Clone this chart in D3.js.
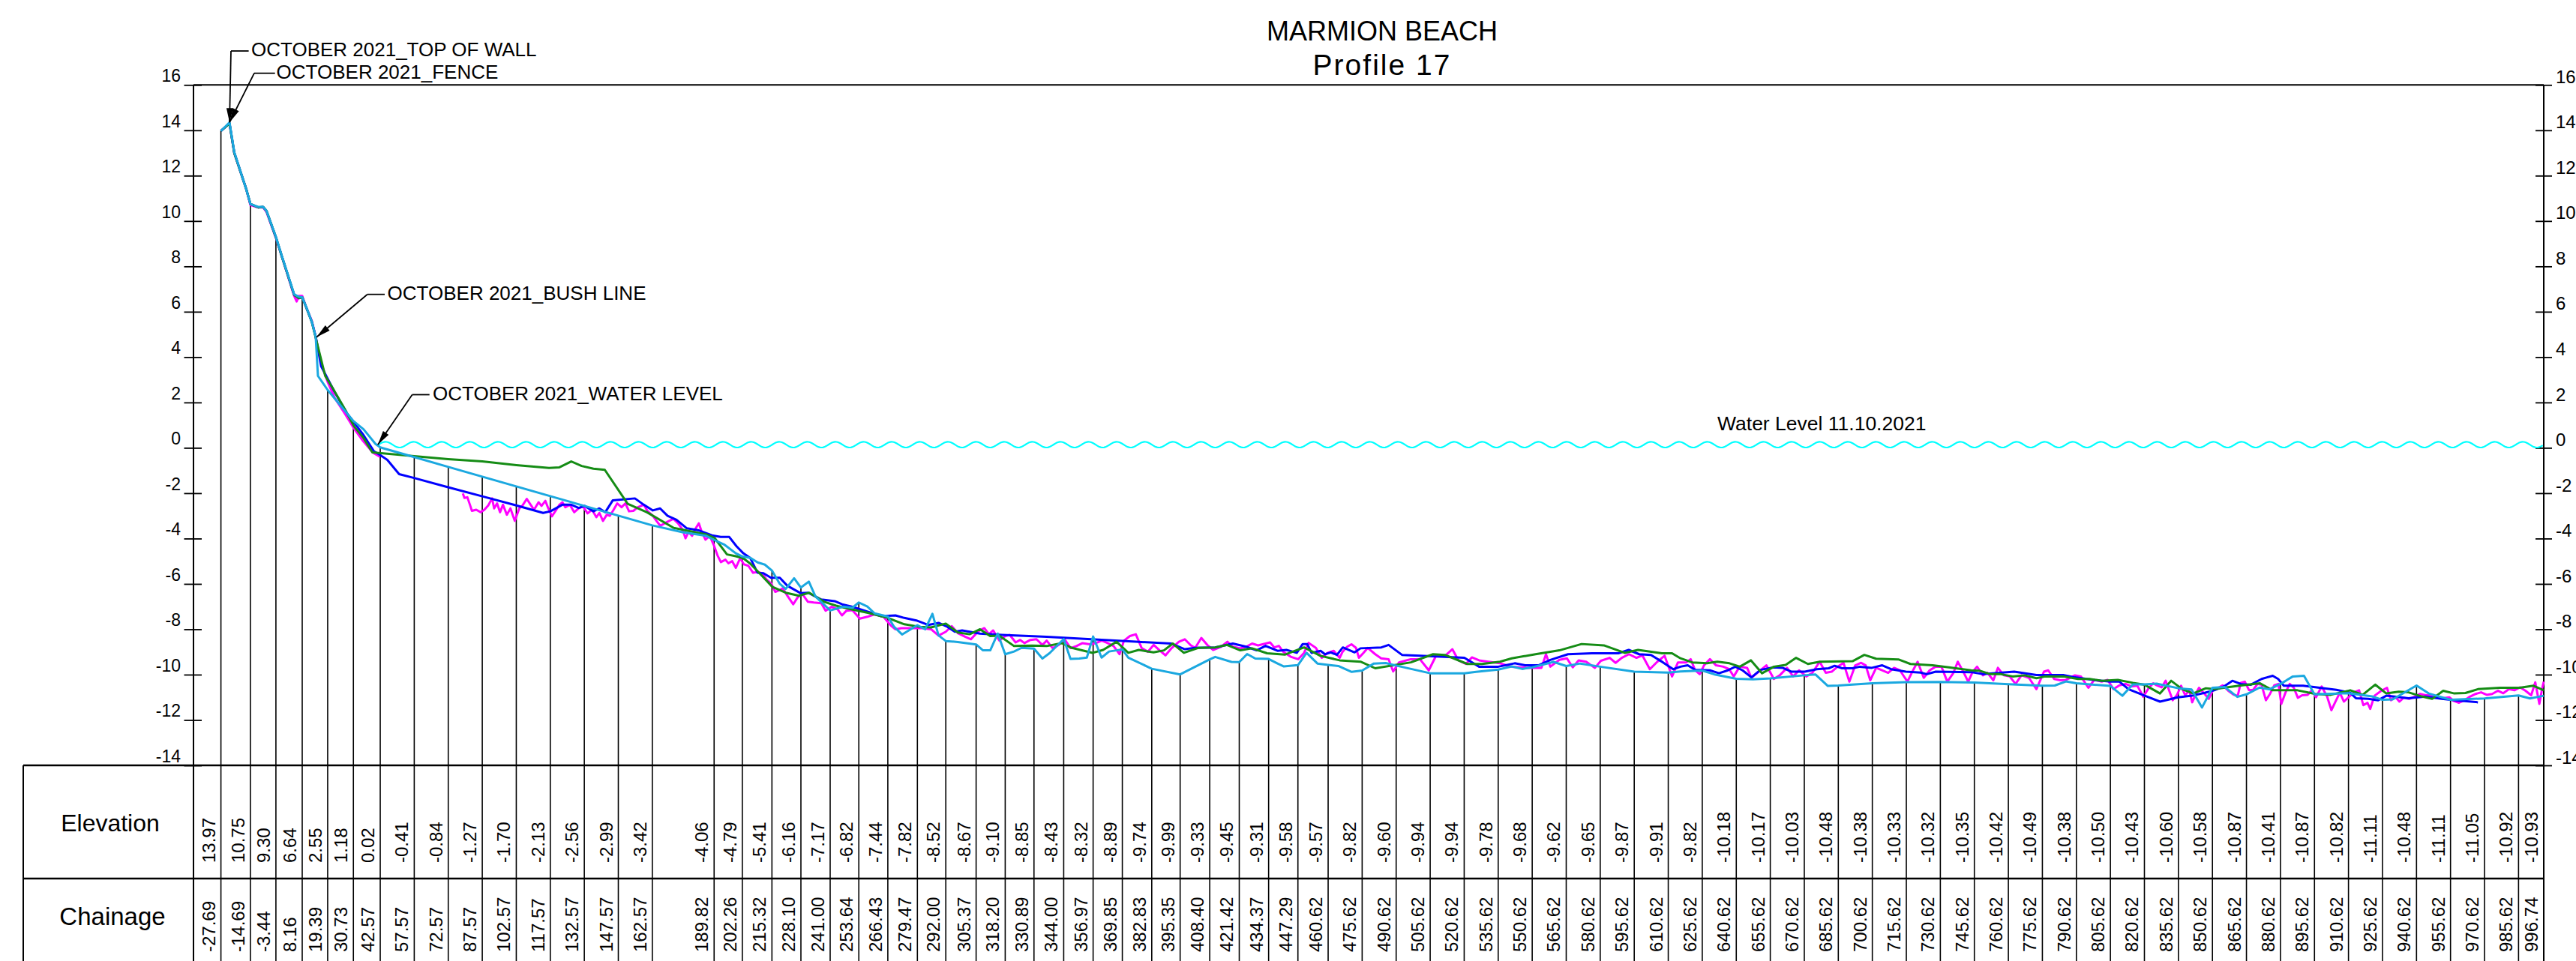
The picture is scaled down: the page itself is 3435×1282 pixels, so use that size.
<!DOCTYPE html>
<html>
<head>
<meta charset="utf-8">
<script src="https://d3js.org/d3.v7.min.js"></script>
<style>
  body { margin: 0; background: #fff; }
  svg { display: block; font-family: "Liberation Sans", Arial, sans-serif; }
</style>
</head>
<body>
<div id="chart"></div>
<script>
// station table (Oct 2021 survey)
var stationChainage = [-27.69,-14.69,-3.44,8.16,19.39,30.73,42.57,57.57,72.57,87.57,102.57,117.57,132.57,147.57,162.57,
  189.82,202.26,215.32,228.10,241.00,253.64,266.43,279.47,292.00,305.37,318.20,330.89,344.00,356.97,369.85,382.83,395.35,
  408.40,421.42,434.37,447.29,460.62,475.62,490.62,505.62,520.62,535.62,550.62,565.62,580.62,595.62,610.62,625.62,640.62,
  655.62,670.62,685.62,700.62,715.62,730.62,745.62,760.62,775.62,790.62,805.62,820.62,835.62,850.62,865.62,880.62,895.62,
  910.62,925.62,940.62,955.62,970.62,985.62,996.74];
var stationElevation = [13.97,10.75,9.30,6.64,2.55,1.18,0.02,-0.41,-0.84,-1.27,-1.70,-2.13,-2.56,-2.99,-3.42,
  -4.06,-4.79,-5.41,-6.16,-7.17,-6.82,-7.44,-7.82,-8.52,-8.67,-9.10,-8.85,-8.43,-8.32,-8.89,-9.74,-9.99,
  -9.33,-9.45,-9.31,-9.58,-9.57,-9.82,-9.60,-9.94,-9.94,-9.78,-9.68,-9.62,-9.65,-9.87,-9.91,-9.82,-10.18,
  -10.17,-10.03,-10.48,-10.38,-10.33,-10.32,-10.35,-10.42,-10.49,-10.38,-10.50,-10.43,-10.60,-10.58,-10.87,-10.41,-10.87,
  -10.82,-11.11,-10.48,-11.11,-11.05,-10.92,-10.93];

var yTicks = [-14,-12,-10,-8,-6,-4,-2,0,2,4,6,8,10,12,14,16];
var waterLevel = 0;

// profiles [chainage, elevation]
var profileOct2021 = [[-27.69,13.97],[-23.9,14.35],[-21.8,13.04],[-16.5,11.39],[-14.69,10.75],[-11.2,10.62],[-9.1,10.62],[-7.6,10.45],
  [-3.44,9.30],[-0.7,8.42],[4.6,6.77],[6.7,6.66],[8.16,6.64],[9.9,6.22],[12.4,5.56],[14.1,4.9],[15.1,3.17],[19.39,2.55],[30.73,1.18],
  [35.2,0.82],[40.5,0.17],[42.57,0.02],[57.57,-0.41],[72.57,-0.84],[87.57,-1.27],[102.57,-1.70],[117.57,-2.13],[132.57,-2.56],
  [147.57,-2.99],[162.57,-3.42],[175.9,-3.72],[186.3,-3.88],[189.82,-4.06],[194.2,-4.26],[199.4,-4.65],[202.26,-4.79],[205.7,-4.85],
  [209,-5.05],[212.2,-5.15],[215.32,-5.41],[218.8,-6.0],[221.4,-6.22],[225.1,-5.75],[228.10,-6.16],[231.6,-5.9],[234.5,-6.55],
  [241.00,-7.17],[246.9,-7.0],[250.8,-7.05],[253.64,-6.82],[257.4,-7.0],[260.6,-7.3],[266.43,-7.44],[269.1,-7.88],[272.7,-8.23],
  [279.47,-7.82],[282.9,-8.0],[286.1,-7.32],[288.8,-8.27],[292.00,-8.52],[297.3,-8.56],[305.37,-8.67],[308.4,-8.93],[311.6,-8.93],
  [314.9,-8.19],[318.20,-9.10],[322.1,-8.98],[325.4,-8.82],[330.89,-8.85],[334.6,-9.29],[337.8,-9.05],[344.00,-8.43],[347,-9.31],
  [350.9,-9.29],[354.2,-9.25],[356.97,-8.32],[360.7,-9.25],[364,-8.98],[369.85,-8.89],[372.5,-9.25],[382.83,-9.74],[395.35,-9.99],
  [408.40,-9.33],[410.8,-9.22],[418,-9.44],[421.42,-9.45],[424.9,-9.09],[428.5,-9.29],[434.37,-9.31],[438.3,-9.51],[441.1,-9.64],
  [447.29,-9.58],[451.1,-9.04],[455.9,-9.51],[460.62,-9.57],[465.1,-9.62],[471,-9.88],[475.62,-9.82],[480.8,-9.51],[486,-9.49],
  [490.62,-9.60],[505.62,-9.94],[520.62,-9.94],[525.9,-9.88],[535.62,-9.78],[541.6,-9.64],[546.2,-9.75],[550.62,-9.68],[560,-9.44],
  [565.62,-9.62],[571.8,-9.51],[580.62,-9.65],[595.62,-9.87],[610.62,-9.91],[616,-9.86],[625.62,-9.82],[631,-9.99],[640.62,-10.18],
  [648,-10.21],[655.62,-10.17],[670.62,-10.03],[675.5,-9.99],[681,-10.5],[685.62,-10.48],[700.62,-10.38],[715.62,-10.33],
  [730.62,-10.32],[745.62,-10.35],[760.62,-10.42],[775.62,-10.49],[781.1,-10.48],[786,-10.3],[790.62,-10.38],[805.62,-10.50],
  [810.9,-10.93],[815.5,-10.43],[820.62,-10.43],[826,-10.4],[835.62,-10.60],[841.4,-10.65],[846,-11.45],[850.62,-10.58],[856.1,-10.55],
  [861.6,-10.98],[865.62,-10.87],[871.4,-10.57],[875.7,-10.65],[880.62,-10.41],[886.1,-10.08],[891,-10.05],[895.62,-10.87],
  [910.62,-10.82],[921,-10.96],[925.62,-11.11],[930.1,-11.09],[940.62,-10.48],[946,-10.83],[955.62,-11.11],[970.62,-11.05],
  [985.62,-10.92],[990.7,-11.05],[996.74,-10.93]];

var profileGreen = [[-27.69,13.97],[-23.9,14.3],[-21.8,13.0],[-16.5,11.4],[-14.69,10.75],[-11.2,10.6],[-9.1,10.62],[-7.6,10.45],
  [-3.44,9.28],[-0.7,8.4],[4.6,6.75],[6.7,6.6],[8.16,6.64],[9.9,6.2],[12.4,5.55],[14.1,4.86],[18.3,3.17],[21.5,2.65],[26.8,1.73],
  [31,0.95],[35.2,0.43],[39.1,-0.2],[57.5,-0.37],[72.5,-0.5],[87.6,-0.6],[102.6,-0.76],[117,-0.89],[121.6,-0.86],[126.8,-0.6],
  [131.4,-0.8],[136.6,-0.92],[141.6,-0.97],[151.7,-2.47],[160.2,-2.84],[172,-3.53],[186.3,-3.82],[190,-3.97],[195.5,-4.7],
  [199.4,-4.78],[202.7,-4.87],[205.7,-5.1],[210.9,-5.64],[215.5,-6.13],[221.4,-6.39],[227.3,-6.52],[231.8,-6.39],[238.4,-6.79],
  [243.6,-6.96],[250.2,-7.12],[258,-7.28],[266.5,-7.5],[273.7,-7.78],[280.3,-7.89],[285.5,-7.92],[292,-7.75],[297.3,-8.14],
  [302.5,-8.22],[307.1,-8.0],[311.6,-8.3],[315.6,-8.28],[322.1,-8.74],[330,-8.72],[336.5,-8.74],[343.1,-8.61],[347.6,-8.82],
  [356.8,-9.04],[361.4,-8.91],[367.3,-8.55],[372.5,-9.04],[377.1,-8.91],[383.6,-9.02],[388.2,-8.93],[392.1,-8.63],[397,-9.04],
  [403.3,-8.82],[410.8,-8.8],[416,-8.69],[421.9,-8.93],[427.1,-8.84],[433.7,-9.06],[441.5,-9.12],[450,-8.8],[457.2,-9.17],
  [465.7,-9.37],[474.9,-9.43],[481.4,-9.72],[497.1,-9.46],[506.9,-9.1],[512.1,-9.13],[522,-9.53],[528.5,-9.53],[536.4,-9.43],
  [541.6,-9.28],[552.1,-9.1],[562.6,-8.93],[572.4,-8.65],[582.2,-8.71],[591.4,-9.04],[597.3,-8.91],[607.8,-9.06],[612.3,-9.06],
  [616,-9.28],[621.2,-9.46],[627.8,-9.5],[632.3,-9.43],[637.6,-9.5],[642.2,-9.65],[647.1,-9.37],[652,-9.94],[657.2,-9.65],
  [662.4,-9.57],[667,-9.26],[672.2,-9.53],[677.5,-9.43],[691.9,-9.41],[697.1,-9.13],[702.3,-9.3],[712.1,-9.33],[717.4,-9.53],
  [727.2,-9.59],[734.4,-9.68],[744.2,-9.81],[748.1,-9.83],[752.7,-9.98],[757.3,-9.98],[762.5,-10.08],[767.8,-10.03],[773,-10.16],
  [776.9,-10.08],[784.8,-10.08],[791.3,-10.19],[796.5,-10.19],[801.8,-10.27],[808.9,-10.23],[815.5,-10.36],[820.8,-10.45],
  [827.5,-10.83],[832.4,-10.27],[837.3,-10.64],[842.2,-10.83],[847.7,-10.6],[851.4,-10.64],[862.4,-10.49],[871.6,-10.38],
  [877.1,-10.69],[888.1,-10.69],[896,-10.85],[902.8,-10.89],[911.4,-10.69],[916.9,-10.89],[922.4,-10.44],[927.3,-10.83],
  [932.8,-10.75],[937.1,-10.78],[943.2,-10.97],[947.5,-11.07],[952.4,-10.71],[957.3,-10.83],[962.2,-10.81],[967.7,-10.64],
  [977.5,-10.58],[986.1,-10.58],[992.2,-10.49],[996.74,-10.69]];

var profileBlue = [[-27.69,13.97],[-23.9,14.3],[-21.8,13.0],[-16.5,11.4],[-14.69,10.75],[-11.2,10.6],[-9.1,10.62],[-7.6,10.45],
  [-3.44,9.28],[-0.7,8.4],[4.6,6.75],[6.7,6.6],[8.16,6.64],[9.9,6.2],[12.4,5.55],[14.1,4.9],[16.5,3.6],[22.5,2.45],[27.8,1.54],
  [35.2,0.56],[39.8,-0.15],[42.4,-0.31],[45.7,-0.53],[50.9,-1.16],[57.5,-1.33],[72.5,-1.74],[87.6,-2.14],[102.6,-2.54],
  [114.4,-2.87],[117.6,-2.8],[122.9,-2.51],[126.8,-2.51],[130.1,-2.65],[132.7,-2.56],[136.6,-2.8],[139.2,-2.67],[141.8,-2.84],
  [145.1,-2.32],[154.9,-2.23],[158.8,-2.51],[162.8,-2.76],[166,-2.67],[169.3,-3.0],[173.2,-3.17],[177.8,-3.55],[183.1,-3.64],
  [188.9,-3.86],[192.7,-3.93],[196.5,-3.93],[199.7,-4.34],[202.7,-4.65],[205.7,-4.85],[209,-5.51],[211.6,-5.53],[214.9,-5.73],
  [218.8,-5.73],[222.1,-6.08],[228,-6.41],[231.3,-6.39],[237.1,-6.69],[243,-6.76],[246.3,-6.9],[250.8,-7.01],[259.3,-7.28],
  [263.3,-7.42],[269.8,-7.39],[273.7,-7.5],[279,-7.61],[284.2,-7.81],[288.8,-7.72],[292.7,-7.89],[296,-8.11],[299.2,-8.05],
  [307.1,-8.19],[316.9,-8.25],[336.5,-8.33],[356.1,-8.44],[375.8,-8.55],[391.5,-8.63],[397.4,-8.88],[401.9,-8.82],[410.8,-8.8],
  [418.6,-8.63],[424.5,-8.77],[429.1,-8.93],[433,-8.73],[438.3,-8.95],[442.2,-8.91],[446.8,-9.04],[449.4,-8.65],[451.4,-8.65],
  [453.3,-9.04],[457.3,-8.95],[459.2,-9.1],[461.8,-9.02],[464.5,-9.13],[467.1,-8.8],[472.3,-9.02],[474.9,-8.84],[484.1,-8.8],
  [487.3,-8.69],[493.2,-9.13],[501.1,-9.17],[510.2,-9.21],[520.7,-9.26],[527.2,-9.65],[535.7,-9.65],[542.9,-9.5],[547.5,-9.59],
  [553.4,-9.59],[558.6,-9.35],[566.4,-9.1],[576.9,-9.06],[588.6,-9.06],[593.2,-8.91],[597.8,-9.1],[603,-9.13],[608.3,-9.46],
  [612.8,-9.76],[616,-9.65],[619.2,-9.59],[622.5,-9.79],[629,-9.81],[633,-9.94],[636.9,-9.81],[640.2,-9.65],[643.4,-9.81],
  [647.3,-10.12],[651.3,-9.79],[657.2,-9.68],[661.1,-9.7],[665,-9.87],[670.9,-9.87],[676.1,-9.76],[681.4,-9.72],[684,-9.61],
  [687.3,-9.72],[691.9,-9.72],[695.1,-9.65],[700.4,-9.7],[705,-9.59],[708.9,-9.76],[715.4,-9.87],[722,-9.91],[724.6,-9.98],
  [728.6,-9.87],[744.3,-9.89],[749.5,-9.98],[763.2,-9.87],[773,-10.02],[784.8,-10.02],[790,-10.12],[799.2,-10.25],[805.7,-10.31],
  [809.6,-10.31],[813.6,-10.64],[820.8,-10.93],[827.5,-11.19],[835.4,-11.0],[841.6,-10.93],[847.2,-10.8],[851.4,-10.69],
  [855.7,-10.52],[859.4,-10.27],[863.1,-10.41],[867.4,-10.45],[872.3,-10.19],[874.7,-10.12],[877.2,-10.05],[879.6,-10.19],
  [882.1,-10.49],[890.6,-10.49],[905.3,-10.67],[911.4,-10.8],[913.9,-11.04],[919.4,-11.07],[923.7,-11.13],[927.3,-10.93],
  [937.1,-11.04],[944.5,-10.97],[951.8,-11.07],[957.9,-11.13],[967.7,-11.22]];

var profileMagenta = [[-27.69,13.97],[-23.9,14.3],[-21.8,13.0],[-16.5,11.4],[-14.69,10.7],[-11.2,10.6],[-9.1,10.6],[-7.6,10.4],
  [-3.44,9.25],[-0.7,8.4],[4.6,6.7],[5.7,6.45],[6.7,6.7],[8.16,6.7],[9.9,6.2],[12.4,5.6],[14.1,4.9],[15.1,4.4],[17,3.6],[19.4,2.9],
  [22.5,2.2],[27,1.5],[31,0.85],[35,0.3],[39.4,-0.22],[42.5,-0.4],[60,null],
  [79,-2.01],[79.7,-2.21],[81,-2.18],[82.3,-2.56],[83,-2.78],[84.9,-2.73],[86.9,-2.84],[88.5,-2.73],[90.2,-2.54],[91.9,-2.23],
  [92.8,-2.67],[94.1,-2.45],[95.4,-2.84],[96.7,-2.51],[98.4,-2.95],[100,-2.67],[101.9,-3.22],[103.9,-2.67],[105.2,-2.56],
  [107.2,-2.25],[108.9,-2.51],[110.4,-2.73],[112.4,-2.4],[113.7,-2.56],[115.4,-2.34],[116.7,-2.67],[118.3,-3.02],[119.9,-2.78],
  [121.6,-2.51],[122.9,-2.4],[124.2,-2.62],[126.2,-2.51],[128.1,-2.84],[130.1,-2.67],[132,-2.58],[134,-2.89],[136,-2.73],
  [137.9,-3.06],[139.2,-2.87],[140.8,-3.22],[142.5,-2.95],[143.8,-3.0],[145.5,-2.73],[147.1,-2.45],[149,-2.62],[150.7,-2.45],
  [152.3,-2.8],[154.2,-2.78],[156.2,-2.62],[158.8,-2.51],[160.4,-2.78],[162.8,-3.0],[164.4,-3.22],[166.1,-3.44],[168,-3.33],
  [170,-3.22],[171.9,-3.13],[173.9,-3.33],[175.9,-3.6],[177.2,-3.99],[178.5,-3.72],[180.1,-3.88],[181.7,-3.55],[183.1,-3.33],
  [184.4,-3.72],[186,-4.05],[187.9,-3.88],[189.6,-4.27],[191.3,-4.74],[192.8,-5.04],[194.8,-4.93],[196.1,-5.09],[197.8,-5.0],
  [199.4,-5.29],[201.3,-4.87],[203,-5.14],[204.9,-5.2],[207,-5.51],[209,-5.47],[210.9,-5.53],[212.9,-5.8],[214.9,-5.97],
  [216.8,-6.35],[218.8,-6.27],[220.1,-6.19],[222.1,-6.52],[224.7,-6.9],[226.6,-6.6],[228.6,-6.43],[231.2,-6.79],[233.8,-6.82],
  [237.1,-6.85],[239,-7.18],[241.6,-7.01],[244.3,-7.12],[246.2,-7.39],[248.2,-7.18],[250.8,-7.16],[254.1,-7.53],[257.4,-7.45],
  [260.6,-7.34],[264.5,-7.45],[267.8,-7.84],[269.8,-8.0],[272.4,-7.95],[277,-7.95],[281.5,-7.95],[285.5,-8.0],[288.8,-8.28],
  [292,-8.11],[294.6,-7.86],[297.3,-8.17],[300.5,-8.33],[303.1,-8.44],[306.4,-8.08],[309,-7.95],[311,-8.22],[312.9,-8.05],
  [315.6,-8.5],[318.2,-8.3],[320.2,-8.25],[322.8,-8.58],[324.8,-8.47],[326.7,-8.61],[329.3,-8.47],[332,-8.44],[334.6,-8.69],
  [336.5,-8.5],[339.1,-8.83],[341.8,-8.69],[344.4,-8.44],[347,-8.83],[349.6,-8.74],[352.3,-8.61],[355.5,-8.66],[358.2,-8.61],
  [360.8,-8.5],[363.4,-8.61],[366,-8.74],[368.6,-9.1],[370.6,-8.5],[373.2,-8.3],[375.8,-8.22],[378.4,-8.83],[381.1,-8.99],
  [383.7,-8.69],[386.3,-8.93],[388.9,-9.15],[391.6,-8.83],[394.8,-8.55],[397.4,-8.44],[400.1,-8.71],[402,-8.82],[404.7,-8.38],
  [407.3,-8.69],[409.9,-8.91],[413.4,-8.77],[416.2,-8.55],[418.6,-8.77],[421.9,-8.84],[424.5,-8.77],[427.1,-8.63],[429.7,-8.71],
  [431.7,-8.66],[435,-8.58],[436.9,-8.8],[438.9,-8.73],[440.8,-8.99],[444.1,-9.21],[447.4,-9.32],[450,-9.04],[452,-8.6],
  [455.2,-8.82],[457.8,-9.26],[460.4,-9.04],[463.1,-8.95],[465.7,-9.26],[467,-8.99],[469,-8.77],[470.9,-8.66],[472.9,-8.82],
  [474.2,-9.26],[476.2,-9.04],[478.1,-8.82],[481.4,-9.1],[484,-9.28],[487.3,-9.32],[489.3,-9.86],[491.9,-9.46],[494.5,-9.39],
  [497.1,-9.32],[501.1,-9.32],[505,-9.81],[508.3,-9.15],[512.2,-9.17],[515.4,-8.88],[518.1,-9.37],[521.4,-9.53],[524,-9.24],
  [527.2,-9.37],[531.2,-9.43],[536.4,-9.5],[541.6,-9.65],[548.2,-9.7],[554.7,-9.7],[556.7,-9.1],[558.6,-9.65],[562.6,-9.35],
  [565.9,-9.28],[568.5,-9.68],[571.1,-9.37],[574.4,-9.43],[578.3,-9.7],[580.9,-9.39],[584.8,-9.26],[587.4,-9.48],[590.1,-9.26],
  [593.3,-9.1],[596.6,-9.26],[599.2,-9.15],[602.5,-9.76],[605.8,-9.43],[609,-9.17],[612.3,-10.08],[614.9,-9.46],[618.6,-9.46],
  [620.5,-9.32],[622.5,-9.81],[624.5,-9.98],[626.4,-9.59],[629,-9.32],[631.7,-9.59],[634.9,-9.65],[637.5,-9.76],[639.5,-10.08],
  [642.1,-9.65],[645.4,-9.7],[647.3,-10.14],[649.9,-9.92],[653.9,-9.59],[657.2,-10.19],[659.8,-10.03],[663,-9.7],[665.7,-10.08],
  [668.3,-9.81],[671.5,-10.08],[674.2,-9.92],[677.4,-9.43],[680.1,-9.92],[682.7,-9.87],[685.3,-9.65],[687.9,-9.48],[690.5,-10.31],
  [693.1,-9.59],[695.7,-9.48],[697.7,-9.59],[699.7,-10.25],[702.3,-9.7],[704.9,-9.81],[707.6,-9.92],[710.2,-9.7],[712.8,-9.81],
  [716.1,-10.31],[718,-9.92],[720.6,-9.43],[723.3,-10.14],[725.9,-9.81],[728.5,-9.65],[731.1,-9.65],[733.7,-10.31],[736.4,-9.92],
  [738.3,-9.43],[741,-9.92],[742.9,-10.31],[744.9,-9.87],[746.8,-9.65],[749.4,-10.03],[751.4,-9.92],[754,-10.25],[756,-9.7],
  [758.6,-10.03],[761.2,-10.08],[763.8,-10.41],[766.4,-10.03],[769.7,-10.14],[773,-10.64],[776.3,-9.87],[778.2,-9.81],
  [780.8,-10.19],[783.5,-10.25],[786.1,-10.23],[790,-10.03],[792.6,-10.08],[795.9,-10.58],[798.5,-10.23],[801.8,-10.31],
  [804.4,-10.23],[807,-10.64],[809.6,-10.47],[812.3,-10.41],[814.9,-10.52],[817.5,-10.49],[820.1,-10.97],[822.6,-10.58],
  [824.5,-10.38],[826,-10.47],[828.2,-10.56],[830,-10.27],[831.9,-10.8],[833.1,-11.13],[834.9,-10.91],[836.8,-10.49],[838.6,-10.91],
  [840.4,-10.69],[841.7,-11.22],[843.5,-10.8],[844.7,-10.58],[847.2,-10.85],[849,-11.07],[850.8,-10.69],[853.3,-10.58],
  [855.1,-10.47],[857.6,-10.71],[860,-10.89],[861.8,-10.93],[863.1,-10.36],[864.9,-10.31],[866.8,-10.69],[868.6,-10.67],
  [870.5,-10.41],[872.3,-10.45],[874.2,-11.13],[876,-10.85],[877.9,-10.47],[879.7,-10.41],[881,-11.29],[882.8,-10.8],
  [884.7,-10.41],[886.5,-10.58],[888.3,-11.02],[890.2,-10.91],[892.6,-10.89],[894.5,-10.69],[896.3,-11.0],[898.8,-10.52],
  [901.2,-10.97],[903.1,-11.57],[904.9,-11.19],[906.8,-10.8],[908.6,-11.19],[910.4,-11.02],[912.9,-10.78],[915.3,-10.69],
  [917.2,-11.35],[919,-11.24],[920.2,-11.51],[922.1,-10.93],[925.1,-10.71],[927.6,-10.58],[929.4,-11.13],[931.2,-10.97],
  [933.1,-11.19],[934.9,-11.02],[937.4,-11.07],[939.8,-10.97],[942.2,-10.85],[944.7,-10.91],[947.1,-10.91],[949.6,-10.97],
  [952,-11.04],[955.1,-11.0],[956.9,-11.15],[959.4,-11.24],[961.8,-11.13],[964.2,-10.97],[966.7,-10.85],[969.1,-10.78],
  [971.6,-10.89],[974,-10.85],[976.5,-10.71],[978.9,-10.82],[981.4,-10.64],[983.8,-10.69],[986.3,-10.56],[988.7,-10.71],
  [991.2,-10.91],[993,-10.34],[994.8,-11.29],[996.1,-10.58],[996.74,-10.31]];

// callouts: label, arrow tip [chainage, elevation]
var callouts = [
  {label: "OCTOBER 2021_TOP OF WALL", tip: [-23.9, 14.35], text: [335, 75], elbow: [308, 68], bar: 331.6},
  {label: "OCTOBER 2021_FENCE", tip: [-23.9, 14.35], text: [368.6, 105], elbow: [339, 97.7], bar: 366.7},
  {label: "OCTOBER 2021_BUSH LINE", tip: [14.5, 4.88], text: [516.6, 400], elbow: [489.8, 392.7], bar: 513},
  {label: "OCTOBER 2021_WATER LEVEL", tip: [41.5, 0.14], text: [577, 534], elbow: [549.7, 526.5], bar: 572.7}
];

var W = 3435, H = 1282;
var left = 258, right = 3392, tableLeft = 31;
var tableTop = 1021, rowSplit = 1172;

// plain hyphen for negatives, as on the drawing
var locale = d3.formatLocale({decimal: ".", thousands: ",", grouping: [3], currency: ["", ""], minus: "-"});
var fmt = locale.format(".2f");
var fmtTick = locale.format("d");

var svg = d3.select("#chart").append("svg")
  .attr("width", W).attr("height", H);

var x = d3.scaleLinear().domain([-27.69, 996.74]).range([294.6, right]);
var y = d3.scaleLinear().domain([-14, 16]).range([tableTop, 113.3]);

// title
svg.append("text").attr("x", 1843).attr("y", 54).attr("text-anchor", "middle")
  .attr("font-size", 36).text("MARMION BEACH");
svg.append("text").attr("x", 1843).attr("y", 100).attr("text-anchor", "middle")
  .attr("font-size", 39).attr("letter-spacing", 2).text("Profile 17");

// frame
svg.append("line").attr("x1", left).attr("x2", right).attr("y1", y(16)).attr("y2", y(16))
  .attr("stroke", "#000").attr("stroke-width", 2);
svg.append("line").attr("x1", left).attr("x2", left).attr("y1", y(16)).attr("y2", H)
  .attr("stroke", "#000").attr("stroke-width", 2);
svg.append("line").attr("x1", right).attr("x2", right).attr("y1", y(16)).attr("y2", H)
  .attr("stroke", "#000").attr("stroke-width", 2);

// axes
var axL = svg.append("g").attr("transform", "translate(" + left + ",0)")
  .call(d3.axisLeft(y).tickValues(yTicks).tickFormat(fmtTick).tickSize(0).tickPadding(17));
axL.select(".domain").remove();
axL.selectAll(".tick line").attr("x1", -12.5).attr("x2", 11).attr("stroke-width", 1.8);
axL.selectAll(".tick text").attr("dy", "-0.2em").attr("font-size", 23)
  .attr("font-family", "Liberation Sans, Arial, sans-serif");

var axR = svg.append("g").attr("transform", "translate(" + right + ",0)")
  .call(d3.axisRight(y).tickValues(yTicks).tickFormat(fmtTick).tickSize(0).tickPadding(16));
axR.select(".domain").remove();
axR.selectAll(".tick line").attr("x1", -11).attr("x2", 11).attr("stroke-width", 1.8);
axR.selectAll(".tick text").attr("dy", "-0.12em").attr("font-size", 24)
  .attr("font-family", "Liberation Sans, Arial, sans-serif");

// station lines, from profile down through the table
svg.append("g").selectAll("line").data(stationChainage).join("line")
  .attr("x1", function(d) { return x(d); })
  .attr("x2", function(d) { return x(d); })
  .attr("y1", function(d, i) { return y(stationElevation[i]); })
  .attr("y2", H)
  .attr("stroke", "#000").attr("stroke-width", 1.6);

// table
svg.append("line").attr("x1", tableLeft).attr("x2", right).attr("y1", tableTop).attr("y2", tableTop)
  .attr("stroke", "#000").attr("stroke-width", 2.5);
svg.append("line").attr("x1", tableLeft).attr("x2", right).attr("y1", rowSplit).attr("y2", rowSplit)
  .attr("stroke", "#000").attr("stroke-width", 2.5);
svg.append("line").attr("x1", tableLeft).attr("x2", tableLeft).attr("y1", tableTop).attr("y2", H)
  .attr("stroke", "#000").attr("stroke-width", 2);
svg.append("text").attr("x", 147).attr("y", 1109).attr("text-anchor", "middle")
  .attr("font-size", 32).text("Elevation");
svg.append("text").attr("x", 150).attr("y", 1234).attr("text-anchor", "middle")
  .attr("font-size", 33).text("Chainage");

svg.append("g").selectAll("text").data(stationElevation).join("text")
  .attr("transform", function(d, i) { return "translate(" + (x(stationChainage[i]) - 8) + ",1151) rotate(-90)"; })
  .attr("font-size", 24)
  .text(function(d) { return fmt(d); });
svg.append("g").selectAll("text").data(stationChainage).join("text")
  .attr("transform", function(d) { return "translate(" + (x(d) - 8) + ",1270) rotate(-90)"; })
  .attr("font-size", 24)
  .text(function(d) { return fmt(d); });

// water level wave
var wx0 = x(41.8), wx1 = right, wy = y(waterLevel) - 4.2;
var wave = d3.range(wx0, wx1, 1.5).map(function(px) {
  return [px, wy - 3.8 * Math.sin((px - wx0) / 37.5 * 2 * Math.PI)];
});
svg.append("path").datum(wave)
  .attr("fill", "none").attr("stroke", "#00ffff").attr("stroke-width", 2.2)
  .attr("d", d3.line());
svg.append("text").attr("x", 2290).attr("y", 574).attr("font-size", 26.5)
  .text("Water Level 11.10.2021");

// profiles
var line = d3.line()
  .defined(function(d) { return d[1] != null; })
  .x(function(d) { return x(d[0]); })
  .y(function(d) { return y(d[1]); });

[[profileMagenta, "#ff00ff"], [profileBlue, "#0000ff"], [profileGreen, "#158c15"], [profileOct2021, "#1ba8e0"]]
  .forEach(function(s) {
    svg.append("path").datum(s[0])
      .attr("fill", "none").attr("stroke", s[1]).attr("stroke-width", 3)
      .attr("stroke-linejoin", "round")
      .attr("d", line);
  });

// callouts
callouts.forEach(function(c) {
  var tx = x(c.tip[0]), ty = y(c.tip[1]);
  var ex = c.elbow[0], ey = c.elbow[1];
  var g = svg.append("g");
  g.append("line").attr("x1", ex).attr("y1", ey).attr("x2", c.bar).attr("y2", ey)
    .attr("stroke", "#000").attr("stroke-width", 1.8);
  g.append("line").attr("x1", ex).attr("y1", ey).attr("x2", tx).attr("y2", ty)
    .attr("stroke", "#000").attr("stroke-width", 1.8);
  var ang = Math.atan2(ty - ey, tx - ex), len = 19, hw = 4.5;
  var bx = tx - len * Math.cos(ang), by = ty - len * Math.sin(ang);
  g.append("path")
    .attr("d", "M" + tx + "," + ty +
      "L" + (bx + hw * Math.sin(ang)) + "," + (by - hw * Math.cos(ang)) +
      "L" + (bx - hw * Math.sin(ang)) + "," + (by + hw * Math.cos(ang)) + "Z")
    .attr("fill", "#000");
  g.append("text").attr("x", c.text[0]).attr("y", c.text[1]).attr("font-size", 26).text(c.label);
});
</script>
</body>
</html>
